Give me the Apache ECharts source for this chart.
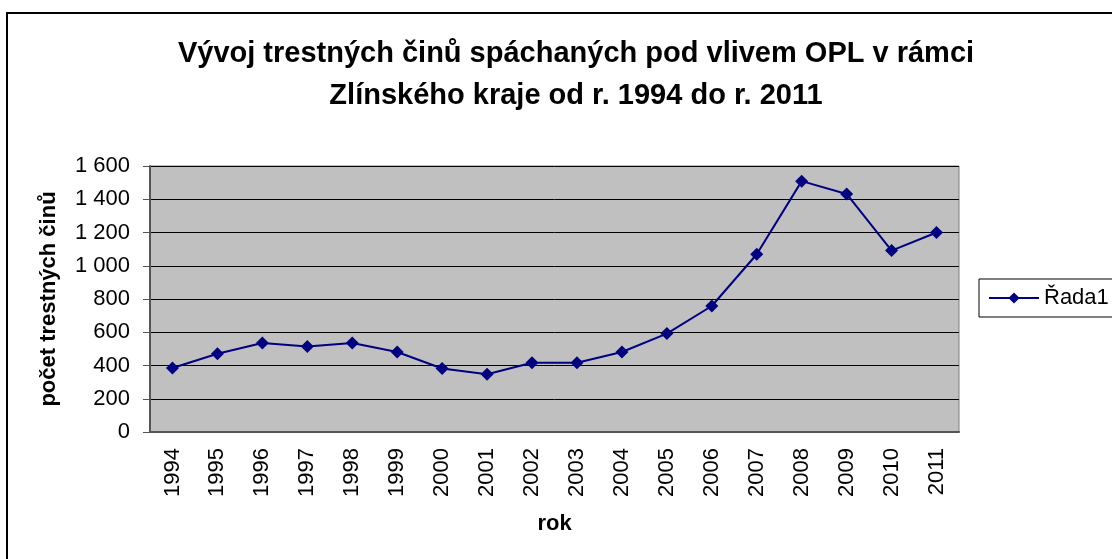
<!DOCTYPE html>
<html>
<head>
<meta charset="utf-8">
<script src="https://cdn.jsdelivr.net/npm/echarts@6/dist/echarts.min.js"></script>
<style>
  html, body { margin: 0; padding: 0; background: #fff; }
  #chart { width: 1112px; height: 559px; }
</style>
</head>
<body>
<div id="chart"></div>
<script>
// data
const years = ['1994', '1995', '1996', '1997', '1998', '1999', '2000', '2001', '2002',
  '2003', '2004', '2005', '2006', '2007', '2008', '2009', '2010', '2011']
const crimes = [385, 471, 535, 515, 535, 481, 382, 347, 416,
  416, 481, 592, 758, 1069, 1509, 1432, 1091, 1200]
const yTickLabels = ['0', '200', '400', '600', '800', '1 000', '1 200', '1 400', '1 600']
const seriesName = 'Řada1'

const font = 'Arial, "Liberation Sans", sans-serif'
const chart = echarts.init(document.getElementById('chart'))

const option = {
  animation: false,
  textStyle: { fontFamily: font },
  title: {
    text: 'Vývoj trestných činů spáchaných pod vlivem OPL v rámci\nZlínského kraje od r. 1994 do r. 2011',
    left: 571,
    top: 28,
    textAlign: 'center',
    textStyle: { fontFamily: font, fontSize: 29, fontWeight: 'bold', color: '#000', lineHeight: 42 }
  },
  legend: {
    data: [seriesName],
    left: 979,
    top: 279,
    orient: 'vertical',
    padding: [8, 9, 8, 9],
    borderColor: '#000',
    borderWidth: 1,
    itemWidth: 50,
    itemHeight: 14,
    textStyle: { fontFamily: font, fontSize: 22, color: '#000' }
  },
  grid: {
    left: 150, top: 166, right: 153, bottom: 127,
    show: true,
    backgroundColor: '#c0c0c0',
    borderColor: '#808080',
    borderWidth: 1
  },
  xAxis: {
    type: 'category',
    data: years,
    name: 'rok',
    nameLocation: 'middle',
    nameGap: 81,
    nameTextStyle: { fontFamily: font, fontSize: 22, fontWeight: 'bold', color: '#000' },
    axisLine: { lineStyle: { color: '#555', width: 2 } },
    axisTick: { length: 7, lineStyle: { color: '#555' } },
    axisLabel: { rotate: 90, margin: 16, fontSize: 22, color: '#000', fontFamily: font }
  },
  yAxis: {
    type: 'value',
    min: 0,
    max: 1600,
    interval: 200,
    name: 'počet trestných činů',
    nameLocation: 'middle',
    nameGap: 90,
    nameRotate: 90,
    nameTextStyle: { fontFamily: font, fontSize: 22, fontWeight: 'bold', color: '#000' },
    axisLine: { show: true, lineStyle: { color: '#555', width: 2 } },
    axisTick: { show: true, length: 7, lineStyle: { color: '#555' } },
    axisLabel: {
      margin: 20, fontSize: 22, color: '#000', fontFamily: font,
      formatter: v => yTickLabels[Math.round(v / 200)]
    },
    splitLine: { lineStyle: { color: '#000', width: 1 } }
  },
  series: [{
    name: seriesName,
    type: 'line',
    data: crimes,
    symbol: 'diamond',
    symbolSize: 13,
    color: '#000080',
    lineStyle: { color: '#000080', width: 2 },
    itemStyle: { color: '#000080' }
  }],
  graphic: [{
    type: 'rect',
    shape: { x: 7, y: 13, width: 1200, height: 700 },
    style: { fill: null, stroke: '#000', lineWidth: 2 },
    silent: true,
    z: -1
  }]
}

chart.setOption(option)
</script>
</body>
</html>
